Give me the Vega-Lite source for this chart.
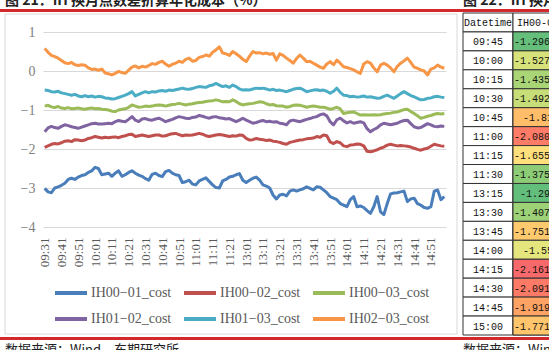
{
 "$schema": "https://vega.github.io/schema/vega-lite/v6.json",
 "width": 403,
 "height": 195,
 "autosize": {"type": "none"},
 "padding": {"left": 43, "top": 32, "right": 103, "bottom": 123},
 "background": "white",
 "config": {"view": {"stroke": null}},
 "datasets": {
  "series": [
   {"t":"09:31","a":-3.01,"b":-1.96,"c":-0.9,"d":-1.56,"e":-0.49,"f":0.58},
   {"t":"09:33","a":-3.1,"b":-1.92,"c":-0.88,"d":-1.46,"e":-0.5,"f":0.48},
   {"t":"09:35","a":-3.12,"b":-1.88,"c":-0.92,"d":-1.42,"e":-0.53,"f":0.4},
   {"t":"09:37","a":-3.0,"b":-1.86,"c":-0.94,"d":-1.45,"e":-0.54,"f":0.37},
   {"t":"09:39","a":-2.97,"b":-1.87,"c":-0.91,"d":-1.47,"e":-0.52,"f":0.33},
   {"t":"09:41","a":-2.93,"b":-1.84,"c":-0.95,"d":-1.42,"e":-0.56,"f":0.27},
   {"t":"09:43","a":-2.88,"b":-1.8,"c":-0.96,"d":-1.38,"e":-0.58,"f":0.21},
   {"t":"09:45","a":-2.78,"b":-1.79,"c":-0.94,"d":-1.4,"e":-0.6,"f":0.19},
   {"t":"09:47","a":-2.75,"b":-1.81,"c":-0.97,"d":-1.43,"e":-0.62,"f":0.22},
   {"t":"09:49","a":-2.78,"b":-1.76,"c":-0.96,"d":-1.45,"e":-0.6,"f":0.16},
   {"t":"09:51","a":-2.72,"b":-1.77,"c":-0.95,"d":-1.47,"e":-0.64,"f":0.14},
   {"t":"09:53","a":-2.68,"b":-1.79,"c":-0.97,"d":-1.44,"e":-0.66,"f":0.16},
   {"t":"09:55","a":-2.66,"b":-1.77,"c":-0.98,"d":-1.41,"e":-0.63,"f":0.15},
   {"t":"09:57","a":-2.6,"b":-1.73,"c":-0.96,"d":-1.38,"e":-0.66,"f":0.08},
   {"t":"09:59","a":-2.56,"b":-1.71,"c":-0.95,"d":-1.35,"e":-0.64,"f":0.04},
   {"t":"10:01","a":-2.47,"b":-1.68,"c":-0.97,"d":-1.34,"e":-0.67,"f":0.05},
   {"t":"10:03","a":-2.5,"b":-1.7,"c":-0.96,"d":-1.36,"e":-0.65,"f":0.02},
   {"t":"10:05","a":-2.66,"b":-1.72,"c":-0.98,"d":-1.36,"e":-0.66,"f":0.05},
   {"t":"10:07","a":-2.64,"b":-1.7,"c":-0.99,"d":-1.35,"e":-0.69,"f":-0.05},
   {"t":"10:09","a":-2.62,"b":-1.71,"c":-1.0,"d":-1.34,"e":-0.7,"f":-0.07},
   {"t":"10:11","a":-2.7,"b":-1.7,"c":-1.03,"d":-1.35,"e":-0.72,"f":-0.1},
   {"t":"10:13","a":-2.62,"b":-1.69,"c":-1.04,"d":-1.3,"e":-0.71,"f":-0.06},
   {"t":"10:15","a":-2.56,"b":-1.71,"c":-1.0,"d":-1.27,"e":-0.68,"f":-0.01},
   {"t":"10:17","a":-2.7,"b":-1.68,"c":-0.98,"d":-1.29,"e":-0.65,"f":-0.04},
   {"t":"10:19","a":-2.66,"b":-1.66,"c":-0.97,"d":-1.3,"e":-0.62,"f":-0.06},
   {"t":"10:21","a":-2.6,"b":-1.63,"c":-0.93,"d":-1.24,"e":-0.58,"f":0.02},
   {"t":"10:23","a":-2.56,"b":-1.62,"c":-0.87,"d":-1.17,"e":-0.53,"f":0.1},
   {"t":"10:25","a":-2.62,"b":-1.68,"c":-0.9,"d":-1.26,"e":-0.64,"f":0.13},
   {"t":"10:27","a":-2.67,"b":-1.66,"c":-0.93,"d":-1.3,"e":-0.6,"f":0.08},
   {"t":"10:29","a":-2.7,"b":-1.64,"c":-0.92,"d":-1.23,"e":-0.56,"f":0.12},
   {"t":"10:31","a":-2.76,"b":-1.66,"c":-0.9,"d":-1.22,"e":-0.53,"f":0.1},
   {"t":"10:33","a":-2.8,"b":-1.68,"c":-0.91,"d":-1.25,"e":-0.56,"f":0.14},
   {"t":"10:35","a":-2.65,"b":-1.66,"c":-0.9,"d":-1.26,"e":-0.53,"f":0.19},
   {"t":"10:37","a":-2.62,"b":-1.64,"c":-0.88,"d":-1.23,"e":-0.54,"f":0.17},
   {"t":"10:39","a":-2.68,"b":-1.64,"c":-0.87,"d":-1.21,"e":-0.51,"f":0.22},
   {"t":"10:41","a":-2.71,"b":-1.67,"c":-0.88,"d":-1.25,"e":-0.5,"f":0.25},
   {"t":"10:43","a":-2.58,"b":-1.66,"c":-0.9,"d":-1.3,"e":-0.52,"f":0.18},
   {"t":"10:45","a":-2.55,"b":-1.63,"c":-0.88,"d":-1.27,"e":-0.49,"f":0.12},
   {"t":"10:47","a":-2.62,"b":-1.61,"c":-0.86,"d":-1.24,"e":-0.5,"f":0.17},
   {"t":"10:49","a":-2.66,"b":-1.6,"c":-0.85,"d":-1.2,"e":-0.48,"f":0.2},
   {"t":"10:51","a":-2.68,"b":-1.63,"c":-0.83,"d":-1.17,"e":-0.46,"f":0.25},
   {"t":"10:53","a":-2.86,"b":-1.66,"c":-0.85,"d":-1.19,"e":-0.44,"f":0.22},
   {"t":"10:55","a":-2.84,"b":-1.64,"c":-0.87,"d":-1.21,"e":-0.46,"f":0.3},
   {"t":"10:57","a":-2.8,"b":-1.65,"c":-0.85,"d":-1.22,"e":-0.47,"f":0.33},
   {"t":"10:59","a":-2.9,"b":-1.64,"c":-0.84,"d":-1.19,"e":-0.45,"f":0.25},
   {"t":"11:01","a":-2.92,"b":-1.62,"c":-0.82,"d":-1.18,"e":-0.42,"f":0.27},
   {"t":"11:03","a":-2.82,"b":-1.6,"c":-0.81,"d":-1.14,"e":-0.4,"f":0.35},
   {"t":"11:05","a":-2.78,"b":-1.62,"c":-0.8,"d":-1.16,"e":-0.41,"f":0.37},
   {"t":"11:07","a":-2.74,"b":-1.66,"c":-0.78,"d":-1.19,"e":-0.42,"f":0.41},
   {"t":"11:09","a":-2.83,"b":-1.68,"c":-0.77,"d":-1.21,"e":-0.38,"f":0.38},
   {"t":"11:11","a":-2.92,"b":-1.66,"c":-0.76,"d":-1.18,"e":-0.36,"f":0.48},
   {"t":"11:13","a":-2.99,"b":-1.64,"c":-0.74,"d":-1.17,"e":-0.32,"f":0.54},
   {"t":"11:15","a":-3.0,"b":-1.63,"c":-0.76,"d":-1.2,"e":-0.36,"f":0.62},
   {"t":"11:17","a":-2.82,"b":-1.64,"c":-0.79,"d":-1.21,"e":-0.4,"f":0.46},
   {"t":"11:19","a":-2.78,"b":-1.66,"c":-0.78,"d":-1.23,"e":-0.38,"f":0.44},
   {"t":"11:21","a":-2.72,"b":-1.68,"c":-0.79,"d":-1.22,"e":-0.42,"f":0.4},
   {"t":"11:23","a":-2.7,"b":-1.66,"c":-0.74,"d":-1.26,"e":-0.36,"f":0.5},
   {"t":"11:25","a":-2.66,"b":-1.67,"c":-0.78,"d":-1.3,"e":-0.4,"f":0.44},
   {"t":"11:27","a":-2.63,"b":-1.64,"c":-0.84,"d":-1.26,"e":-0.46,"f":0.38},
   {"t":"11:29","a":-2.8,"b":-1.65,"c":-0.87,"d":-1.21,"e":-0.49,"f":0.3},
   {"t":"13:01","a":-2.86,"b":-1.73,"c":-0.85,"d":-1.26,"e":-0.48,"f":0.24},
   {"t":"13:03","a":-2.8,"b":-1.77,"c":-0.84,"d":-1.3,"e":-0.49,"f":0.38},
   {"t":"13:05","a":-2.75,"b":-1.76,"c":-0.83,"d":-1.34,"e":-0.46,"f":0.5},
   {"t":"13:07","a":-2.72,"b":-1.73,"c":-0.81,"d":-1.32,"e":-0.44,"f":0.46},
   {"t":"13:09","a":-2.8,"b":-1.75,"c":-0.79,"d":-1.29,"e":-0.45,"f":0.47},
   {"t":"13:11","a":-2.92,"b":-1.76,"c":-0.8,"d":-1.27,"e":-0.44,"f":0.44},
   {"t":"13:13","a":-2.95,"b":-1.78,"c":-0.84,"d":-1.3,"e":-0.46,"f":0.46},
   {"t":"13:15","a":-3.0,"b":-1.77,"c":-0.87,"d":-1.29,"e":-0.49,"f":0.43},
   {"t":"13:17","a":-3.18,"b":-1.8,"c":-0.86,"d":-1.31,"e":-0.47,"f":0.45},
   {"t":"13:19","a":-3.28,"b":-1.81,"c":-0.89,"d":-1.3,"e":-0.5,"f":0.28},
   {"t":"13:21","a":-3.18,"b":-1.83,"c":-0.9,"d":-1.34,"e":-0.49,"f":0.44},
   {"t":"13:23","a":-3.16,"b":-1.86,"c":-0.9,"d":-1.35,"e":-0.51,"f":0.4},
   {"t":"13:25","a":-3.2,"b":-1.88,"c":-0.93,"d":-1.38,"e":-0.53,"f":0.33},
   {"t":"13:27","a":-3.08,"b":-1.83,"c":-0.91,"d":-1.28,"e":-0.5,"f":0.27},
   {"t":"13:29","a":-3.05,"b":-1.81,"c":-0.88,"d":-1.26,"e":-0.47,"f":0.2},
   {"t":"13:31","a":-3.08,"b":-1.79,"c":-0.87,"d":-1.28,"e":-0.45,"f":0.32},
   {"t":"13:33","a":-3.05,"b":-1.77,"c":-0.88,"d":-1.3,"e":-0.44,"f":0.41},
   {"t":"13:35","a":-3.02,"b":-1.76,"c":-0.9,"d":-1.27,"e":-0.48,"f":0.33},
   {"t":"13:37","a":-2.97,"b":-1.74,"c":-0.93,"d":-1.24,"e":-0.53,"f":0.24},
   {"t":"13:39","a":-3.01,"b":-1.73,"c":-0.91,"d":-1.22,"e":-0.51,"f":0.25},
   {"t":"13:41","a":-3.05,"b":-1.72,"c":-0.9,"d":-1.19,"e":-0.49,"f":0.2},
   {"t":"13:43","a":-2.97,"b":-1.68,"c":-0.91,"d":-1.17,"e":-0.48,"f":0.15},
   {"t":"13:45","a":-2.98,"b":-1.7,"c":-0.93,"d":-1.12,"e":-0.5,"f":0.1},
   {"t":"13:47","a":-3.05,"b":-1.64,"c":-0.93,"d":-1.1,"e":-0.49,"f":0.07},
   {"t":"13:49","a":-3.12,"b":-1.66,"c":-0.95,"d":-1.15,"e":-0.52,"f":0.18},
   {"t":"13:51","a":-3.22,"b":-1.82,"c":-0.98,"d":-1.3,"e":-0.57,"f":0.24},
   {"t":"13:53","a":-3.26,"b":-1.86,"c":-0.96,"d":-1.38,"e":-0.52,"f":0.16},
   {"t":"13:55","a":-3.3,"b":-1.81,"c":-0.93,"d":-1.25,"e":-0.44,"f":0.28},
   {"t":"13:57","a":-3.4,"b":-1.84,"c":-0.97,"d":-1.21,"e":-0.55,"f":0.2},
   {"t":"13:59","a":-3.44,"b":-1.92,"c":-1.09,"d":-1.28,"e":-0.62,"f":0.11},
   {"t":"14:01","a":-3.48,"b":-1.94,"c":-1.07,"d":-1.33,"e":-0.63,"f":0.09},
   {"t":"14:03","a":-3.3,"b":-1.9,"c":-1.06,"d":-1.3,"e":-0.66,"f":0.06},
   {"t":"14:05","a":-3.22,"b":-1.89,"c":-1.05,"d":-1.34,"e":-0.65,"f":0.03},
   {"t":"14:07","a":-3.48,"b":-1.87,"c":-1.09,"d":-1.32,"e":-0.67,"f":-0.02},
   {"t":"14:09","a":-3.46,"b":-1.88,"c":-1.13,"d":-1.3,"e":-0.66,"f":-0.06},
   {"t":"14:11","a":-3.5,"b":-1.92,"c":-1.12,"d":-1.33,"e":-0.64,"f":0.18},
   {"t":"14:13","a":-3.58,"b":-2.06,"c":-1.13,"d":-1.48,"e":-0.67,"f":0.24},
   {"t":"14:15","a":-3.65,"b":-2.07,"c":-1.13,"d":-1.56,"e":-0.66,"f":0.2},
   {"t":"14:17","a":-3.48,"b":-2.05,"c":-1.12,"d":-1.5,"e":-0.68,"f":0.08},
   {"t":"14:19","a":-3.22,"b":-2.02,"c":-1.13,"d":-1.46,"e":-0.7,"f":-0.02},
   {"t":"14:21","a":-3.61,"b":-1.98,"c":-1.12,"d":-1.38,"e":-0.69,"f":0.15},
   {"t":"14:23","a":-3.68,"b":-1.95,"c":-1.1,"d":-1.34,"e":-0.65,"f":0.2},
   {"t":"14:25","a":-3.4,"b":-1.9,"c":-1.09,"d":-1.36,"e":-0.62,"f":0.15},
   {"t":"14:27","a":-3.15,"b":-1.88,"c":-1.08,"d":-1.38,"e":-0.66,"f":0.08},
   {"t":"14:29","a":-3.13,"b":-1.9,"c":-1.06,"d":-1.36,"e":-0.7,"f":-0.02},
   {"t":"14:31","a":-3.12,"b":-1.92,"c":-1.05,"d":-1.34,"e":-0.64,"f":0.12},
   {"t":"14:33","a":-3.1,"b":-1.91,"c":-1.02,"d":-1.3,"e":-0.58,"f":0.2},
   {"t":"14:35","a":-3.08,"b":-1.92,"c":-0.99,"d":-1.27,"e":-0.53,"f":0.26},
   {"t":"14:37","a":-3.35,"b":-1.93,"c":-0.98,"d":-1.26,"e":-0.58,"f":0.33},
   {"t":"14:39","a":-3.28,"b":-1.95,"c":-1.04,"d":-1.35,"e":-0.63,"f":0.22},
   {"t":"14:41","a":-3.26,"b":-1.98,"c":-1.09,"d":-1.43,"e":-0.66,"f":0.1},
   {"t":"14:43","a":-3.4,"b":-2.01,"c":-1.15,"d":-1.46,"e":-0.7,"f":0.07},
   {"t":"14:45","a":-3.44,"b":-2.03,"c":-1.21,"d":-1.45,"e":-0.74,"f":0.03},
   {"t":"14:47","a":-3.5,"b":-2.0,"c":-1.19,"d":-1.4,"e":-0.73,"f":0.0},
   {"t":"14:49","a":-3.52,"b":-1.98,"c":-1.16,"d":-1.35,"e":-0.7,"f":-0.1},
   {"t":"14:51","a":-3.48,"b":-1.93,"c":-1.14,"d":-1.38,"e":-0.69,"f":0.05},
   {"t":"14:53","a":-3.08,"b":-1.88,"c":-1.11,"d":-1.42,"e":-0.66,"f":0.08},
   {"t":"14:55","a":-3.05,"b":-1.9,"c":-1.09,"d":-1.43,"e":-0.65,"f":0.15},
   {"t":"14:57","a":-3.3,"b":-1.92,"c":-1.1,"d":-1.41,"e":-0.67,"f":0.1},
   {"t":"14:59","a":-3.22,"b":-1.93,"c":-1.09,"d":-1.42,"e":-0.68,"f":0.07}
  ],
  "table": [
   {"row":"Datetime","col":"Datetime","label":"Datetime"},
   {"row":"Datetime","col":"IH00-01_cost","label":"IH00-01"},
   {"row":"09:45","col":"Datetime","label":"09:45"},
   {"row":"09:45","col":"IH00-01_cost","label":"-1.29641","v":-1.29641},
   {"row":"10:00","col":"Datetime","label":"10:00"},
   {"row":"10:00","col":"IH00-01_cost","label":"-1.52703","v":-1.52703},
   {"row":"10:15","col":"Datetime","label":"10:15"},
   {"row":"10:15","col":"IH00-01_cost","label":"-1.43503","v":-1.43503},
   {"row":"10:30","col":"Datetime","label":"10:30"},
   {"row":"10:30","col":"IH00-01_cost","label":"-1.49252","v":-1.49252},
   {"row":"10:45","col":"Datetime","label":"10:45"},
   {"row":"10:45","col":"IH00-01_cost","label":"-1.81","v":-1.81},
   {"row":"11:00","col":"Datetime","label":"11:00"},
   {"row":"11:00","col":"IH00-01_cost","label":"-2.08006","v":-2.08006},
   {"row":"11:15","col":"Datetime","label":"11:15"},
   {"row":"11:15","col":"IH00-01_cost","label":"-1.65517","v":-1.65517},
   {"row":"11:30","col":"Datetime","label":"11:30"},
   {"row":"11:30","col":"IH00-01_cost","label":"-1.37571","v":-1.37571},
   {"row":"13:15","col":"Datetime","label":"13:15"},
   {"row":"13:15","col":"IH00-01_cost","label":"-1.292","v":-1.292},
   {"row":"13:30","col":"Datetime","label":"13:30"},
   {"row":"13:30","col":"IH00-01_cost","label":"-1.40721","v":-1.40721},
   {"row":"13:45","col":"Datetime","label":"13:45"},
   {"row":"13:45","col":"IH00-01_cost","label":"-1.75151","v":-1.75151},
   {"row":"14:00","col":"Datetime","label":"14:00"},
   {"row":"14:00","col":"IH00-01_cost","label":"-1.55","v":-1.55},
   {"row":"14:15","col":"Datetime","label":"14:15"},
   {"row":"14:15","col":"IH00-01_cost","label":"-2.16151","v":-2.16151},
   {"row":"14:30","col":"Datetime","label":"14:30"},
   {"row":"14:30","col":"IH00-01_cost","label":"-2.09111","v":-2.09111},
   {"row":"14:45","col":"Datetime","label":"14:45"},
   {"row":"14:45","col":"IH00-01_cost","label":"-1.91906","v":-1.91906},
   {"row":"15:00","col":"Datetime","label":"15:00"},
   {"row":"15:00","col":"IH00-01_cost","label":"-1.77106","v":-1.77106}
  ]
 },
 "layer": [
  {
   "data": {"values": [{}]},
   "mark": {"type": "rect", "fill": "transparent", "stroke": "#d9d9d9", "strokeWidth": 1},
   "encoding": {"x": {"value": -38}, "x2": {"value": 414}, "y": {"value": -18}, "y2": {"value": 302}}
  },
  {
   "data": {"name": "series"},
   "transform": [{"fold": ["a", "b", "c", "d", "e", "f"], "as": ["s", "v"]}],
   "mark": {"type": "line", "strokeWidth": 3, "strokeJoin": "round"},
   "encoding": {
    "x": {
     "field": "t", "type": "ordinal",
     "scale": {"type": "point", "padding": 0.5},
     "axis": {
      "values": ["09:31","09:41","09:51","10:01","10:11","10:21","10:31","10:41","10:51","11:01","11:11","11:21","13:01","13:11","13:21","13:31","13:41","13:51","14:01","14:11","14:21","14:31","14:41","14:51"],
      "labelAngle": -90, "labelFont": "Liberation Serif", "labelFontSize": 13, "labelColor": "#595959",
      "ticks": false, "domain": false, "grid": false, "labelPadding": 10, "labelOverlap": false, "title": null
     }
    },
    "y": {
     "field": "v", "type": "quantitative",
     "scale": {"domain": [-4, 1], "nice": false, "zero": false},
     "axis": {
      "values": [-4, -3, -2, -1, 0, 1], "grid": true, "gridColor": "#d9d9d9", "gridWidth": 1,
      "domain": false, "ticks": false, "labelPadding": 8,
      "labelFont": "Liberation Serif", "labelFontSize": 14, "labelColor": "#7f7f7f", "title": null
     }
    },
    "color": {
     "field": "s", "type": "nominal",
     "scale": {"domain": ["a", "b", "c", "d", "e", "f"], "range": ["#4a7ebb", "#c0504d", "#9bbb59", "#8064a2", "#4bacc6", "#f79646"]},
     "legend": {
      "orient": "none", "legendX": 10, "legendY": 243, "columns": 3, "direction": "horizontal",
      "title": null, "symbolType": "stroke", "symbolSize": 1024, "symbolStrokeWidth": 4,
      "labelFont": "Liberation Serif", "labelFontSize": 14, "labelColor": "#595959",
      "labelOffset": 2, "columnPadding": 4, "rowPadding": -7,
      "labelExpr": "{'a':'IH00−01_cost','b':'IH00−02_cost','c':'IH00−03_cost','d':'IH01−02_cost','e':'IH01−03_cost','f':'IH02−03_cost'}[datum.label]"
     }
    }
   }
  },
  {
   "data": {"name": "table"},
   "encoding": {
    "x": {"field": "col", "type": "nominal", "scale": {"domain": ["Datetime", "IH00-01_cost"], "range": [420, 520], "paddingInner": 0, "paddingOuter": 0}, "axis": null},
    "y": {"field": "row", "type": "nominal", "scale": {"domain": ["Datetime","09:45","10:00","10:15","10:30","10:45","11:00","11:15","11:30","13:15","13:30","13:45","14:00","14:15","14:30","14:45","15:00"], "range": [-19, 303], "paddingInner": 0, "paddingOuter": 0}, "axis": null}
   },
   "layer": [
    {"mark": {"type": "rect", "fill": "white", "stroke": "#333333", "strokeWidth": 1}},
    {
     "transform": [{"filter": "isValid(datum.v)"}],
     "mark": {"type": "rect", "stroke": "#333333", "strokeWidth": 1},
     "encoding": {"fill": {"field": "v", "type": "quantitative", "scale": {"domain": [-2.16151, -1.6026, -1.292], "range": ["#f8696b", "#ffeb84", "#63be7b"]}, "legend": null}}
    },
    {
     "mark": {"type": "text", "font": "Liberation Mono", "fontSize": 10, "color": "#111111", "baseline": "middle", "dy": 1},
     "encoding": {"text": {"field": "label"}}
    }
   ]
  },
  {
   "data": {"values": [{}]},
   "mark": {"type": "rule", "color": "#d2282e", "strokeWidth": 3},
   "encoding": {"x": {"value": -43}, "x2": {"value": 506}, "y": {"value": -21.5}}
  },
  {
   "data": {"values": [{}]},
   "mark": {"type": "rule", "color": "#d2282e", "strokeWidth": 3},
   "encoding": {"x": {"value": -43}, "x2": {"value": 506}, "y": {"value": 306.5}}
  },
  {
   "data": {"values": [{}]},
   "mark": {"type": "text", "font": "Noto Sans CJK SC", "fontSize": 14, "fontWeight": "bold", "align": "left", "baseline": "alphabetic", "color": "#222222"},
   "encoding": {"x": {"value": -38}, "y": {"value": -27}, "text": {"value": "图 21：IH 换月点数差折算年化成本（%）"}}
  },
  {
   "data": {"values": [{}]},
   "mark": {"type": "text", "font": "Noto Sans CJK SC", "fontSize": 14, "fontWeight": "bold", "align": "left", "baseline": "alphabetic", "color": "#222222"},
   "encoding": {"x": {"value": 420}, "y": {"value": -27}, "text": {"value": "图 22：IH 换月点数差"}}
  },
  {
   "data": {"values": [{}]},
   "mark": {"type": "text", "font": "Noto Sans CJK SC", "fontSize": 13, "align": "left", "baseline": "alphabetic", "color": "#222222"},
   "encoding": {"x": {"value": -38}, "y": {"value": 322}, "text": {"value": "数据来源：Wind，东期研究所"}}
  },
  {
   "data": {"values": [{}]},
   "mark": {"type": "text", "font": "Noto Sans CJK SC", "fontSize": 13, "align": "left", "baseline": "alphabetic", "color": "#222222"},
   "encoding": {"x": {"value": 420}, "y": {"value": 322}, "text": {"value": "数据来源：Wind，东期研究所"}}
  }
 ],
 "resolve": {"scale": {"x": "independent", "y": "independent"}}
}
